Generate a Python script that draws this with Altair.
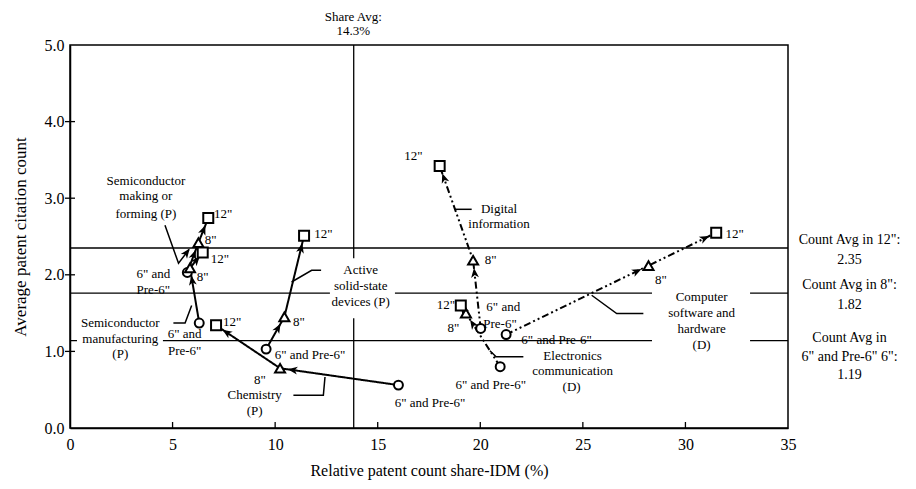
import math
import altair as alt
import pandas as pd

# ---------------- data ----------------
series_names = [
    "Semiconductor making or forming (P)",
    "Semiconductor manufacturing (P)",
    "Active solid-state devices (P)",
    "Chemistry (P)",
    "Digital information (D)",
    "Electronics communication (D)",
    "Computer software and hardware (D)",
]
series_kind = ["P", "P", "P", "P", "D", "D", "D"]
# 6" and Pre-6"  ->  8"  ->  12"
x_6 = [5.72, 6.30, 9.56, 16.01, 20.02, 20.97, 21.26]
y_6 = [2.03, 1.37, 1.03, 0.56, 1.30, 0.80, 1.22]
x_8 = [6.26, 5.85, 10.45, 10.24, 19.65, 19.30, 28.20]
y_8 = [2.42, 2.09, 1.45, 0.78, 2.19, 1.50, 2.12]
x_12 = [6.74, 6.47, 11.41, 7.12, 18.02, 19.05, 31.50]
y_12 = [2.74, 2.29, 2.51, 1.34, 3.42, 1.60, 2.55]

count_avg_lines = [2.35, 1.76, 1.14]
share_avg_line = 13.83

x_ticks = [0, 5, 10, 15, 20, 25, 30, 35]
y_ticks = [0, 1, 2, 3, 4, 5]
x_minor = [5, 10, 15, 20, 25, 30]
y_minor = [1, 2, 3, 4]

# annotation texts and their anchor positions (data units)
ann_text = [
    "Share Avg:", "14.3%",
    "Semiconductor", "making or", "forming (P)",
    '6" and', 'Pre-6"', '8"', '8"', '12"', '12"',
    "Semiconductor", "manufacturing", "(P)",
    '6" and', 'Pre-6"', '12"',
    "Active", "solid-state", "devices (P)",
    '6" and Pre-6"', '8"', '12"',
    '8"', "Chemistry", "(P)", '6" and Pre-6"',
    '12"', "Digital", "information", '8"', '6" and', 'Pre-6"',
    '12"', '8"', '6" and Pre-6"', "Electronics", "communication", "(D)",
    '6" and Pre-6"', '8"', '12"', "Computer", "software and", "hardware", "(D)",
]
ann_x = [
    13.81, 13.81,
    3.70, 3.70, 3.70,
    4.06, 4.06, 6.47, 6.86, 7.47, 7.31,
    2.45, 2.45, 2.45,
    5.59, 5.59, 7.91,
    14.17, 14.17, 14.17,
    11.70, 11.16, 12.35,
    9.26, 9.00, 9.00, 17.55,
    16.74, 20.91, 20.91, 20.51, 21.12, 20.96,
    18.33, 18.69, 20.51, 24.50, 24.50, 24.45,
    23.72, 28.81, 32.40, 30.79, 30.79, 30.79, 30.79,
]
ann_y = [
    5.366, 5.183,
    3.23, 3.025, 2.79,
    2.016, 1.798, 1.97, 2.45, 2.80, 2.20,
    1.371, 1.167, 0.962,
    1.223, 1.005, 1.384,
    2.059, 1.85, 1.645,
    0.949, 1.384, 2.538,
    0.632, 0.428, 0.222, 0.326,
    3.547, 2.864, 2.668, 2.189, 1.58, 1.363,
    1.602, 1.311, 0.557, 0.936, 0.744, 0.535,
    1.154, 1.928, 2.53, 1.71, 1.501, 1.289, 1.089,
]

# labels for the average lines, right of the plot
side_text = ['Count Avg in 12":', "2.35", 'Count Avg in 8":', "1.82",
             "Count Avg in", '6" and Pre-6" 6":', "1.19"]
side_x = [38.0, 38.0, 38.0, 38.0, 38.0, 38.0, 38.0]
side_y = [2.448, 2.187, 1.863, 1.602, 1.171, 0.927, 0.688]

# leader lines (polylines, data units)
leader_x = [
    [4.63, 5.29, 5.80],
    [5.04, 5.61, 5.93],
    [12.24, 11.78, 10.80],
    [10.89, 12.35, 12.43],
    [19.58, 18.77],
    [22.10, 20.77, 20.47],
    [27.95, 26.65, 25.43],
]
leader_y = [
    [2.646, 2.150, 2.33],
    [1.371, 1.371, 1.60],
    [2.059, 2.059, 1.906],
    [0.427, 0.427, 0.666],
    [2.855, 2.855],
    [0.929, 0.929, 1.008],
    [1.494, 1.494, 1.733],
]

# white label backgrounds that interrupt the reference lines
box_x = [12.67, 28.37, 0.34]
box_x2 = [15.84, 33.15, 4.53]
box_y = [2.215, 1.863, 1.483]
box_y2 = [1.432, 0.988, 0.86]

# ---------------- layout ----------------
W, H = 718, 383
XMAX, YMAX = 35, 5
kx, ky = W / XMAX, H / YMAX
FONT = "Liberation Serif"
ARROW = "M0,-1L0.75,0.85L0,0.35L-0.75,0.85Z"

rows = []
for i, s in enumerate(series_names):
    pts_i = [(x_6[i], y_6[i], "6"), (x_8[i], y_8[i], "8"), (x_12[i], y_12[i], "12")]
    for j, (xx, yy, sz) in enumerate(pts_i):
        rows.append(dict(series=s, kind=series_kind[i], order=j, x=xx, y=yy, size=sz))
pts = pd.DataFrame(rows)


def arrow_at(a, b, dist=13.0):
    dxp = (b[0] - a[0]) * kx
    dyp = (b[1] - a[1]) * ky
    L = math.hypot(dxp, dyp)
    t = min(dist / L, 0.5) if L > 0 else 0
    ang = math.degrees(math.atan2(dxp, dyp)) % 360
    return dict(x=b[0] - t * (b[0] - a[0]), y=b[1] - t * (b[1] - a[1]), angle=ang)


arrows = []
for i in range(len(series_names)):
    P = [(x_6[i], y_6[i]), (x_8[i], y_8[i]), (x_12[i], y_12[i])]
    for a, b in zip(P[:-1], P[1:]):
        arrows.append(arrow_at(a, b))
lx, ly = leader_x[0], leader_y[0]
arrows.append(arrow_at((lx[-2], ly[-2]), (lx[-1], ly[-1]), dist=4))
arrows_df = pd.DataFrame(arrows)

lead_rows = []
for k, (lxs, lys) in enumerate(zip(leader_x, leader_y)):
    for j, (xx, yy) in enumerate(zip(lxs, lys)):
        lead_rows.append(dict(id=k, order=j, x=xx, y=yy))
leaders_df = pd.DataFrame(lead_rows)

boxes_df = pd.DataFrame(dict(x=box_x, x2=box_x2, y=box_y, y2=box_y2))
ann_df = pd.DataFrame(dict(text=ann_text, x=ann_x, y=ann_y))
side_df = pd.DataFrame(dict(text=side_text, x=side_x, y=side_y))

xs = alt.Scale(domain=[0, XMAX], nice=False, zero=False)
ys = alt.Scale(domain=[0, YMAX], nice=False, zero=False)
xaxis = alt.Axis(values=x_ticks, format="d", ticks=False, grid=False,
                 domainColor="black", domainWidth=1.5, labelPadding=8,
                 labelFontSize=16, labelColor="black", labelFlush=False,
                 labelOverlap=False, labelFont=FONT,
                 title="Relative patent count share-IDM (%)", titleFont=FONT,
                 titleFontSize=16, titleFontWeight="normal", titleColor="black",
                 titlePadding=10)
yaxis = alt.Axis(values=y_ticks, format=".1f", ticks=False, grid=False,
                 domainColor="black", domainWidth=1.5, labelPadding=6,
                 labelFontSize=16, labelColor="black", labelFlush=False,
                 labelOverlap=False, labelFont=FONT,
                 title="Average patent citation count", titleFont=FONT,
                 titleFontSize=17, titleFontWeight="normal", titleColor="black",
                 titlePadding=15)


def X(f="x"):
    return alt.X(f"{f}:Q", scale=xs, axis=xaxis)


def Y(f="y"):
    return alt.Y(f"{f}:Q", scale=ys, axis=yaxis)


hrules = alt.Chart(pd.DataFrame(dict(y=count_avg_lines))).mark_rule(
    color="black", strokeWidth=1.3).encode(y=Y())
vrule = alt.Chart(pd.DataFrame(dict(x=[share_avg_line]))).mark_rule(
    color="black", strokeWidth=1.3).encode(x=X())
boxes = alt.Chart(boxes_df).mark_rect(fill="white", stroke=None).encode(
    x=X(), x2=alt.X2("x2"), y=Y(), y2=alt.Y2("y2"))
xt = alt.Chart(pd.DataFrame(dict(x=x_minor))).mark_rule(
    color="black", strokeWidth=1.3).encode(x=X(), y=alt.value(H), y2=alt.value(H - 6))
yt = alt.Chart(pd.DataFrame(dict(y=y_minor))).mark_rule(
    color="black", strokeWidth=1.3).encode(y=Y(), x=alt.value(-5), x2=alt.value(5))
leaders = alt.Chart(leaders_df).mark_line(color="black", strokeWidth=1.5).encode(
    x=X(), y=Y(), detail="id:N", order="order:Q")
lines = alt.Chart(pts).mark_line(color="black", strokeWidth=2).encode(
    x=X(), y=Y(), detail="series:N", order="order:Q",
    strokeDash=alt.StrokeDash("kind:N", scale=alt.Scale(
        domain=["P", "D"], range=[[1, 0], [7, 3, 2, 3, 2, 3]]), legend=None))
arrow_marks = alt.Chart(arrows_df).mark_point(
    shape=ARROW, size=110, filled=True, color="black", opacity=1).encode(
    x=X(), y=Y(), angle=alt.Angle("angle:Q", scale=None))


def markers(sz, shape, size):
    return alt.Chart(pts[pts["size"] == sz]).mark_point(
        shape=shape, size=size, filled=True, fill="white", stroke="black",
        strokeWidth=2, opacity=1).encode(x=X(), y=Y())


m6 = markers("6", "circle", 80)
m8 = markers("8", "triangle-up", 100)
m12 = markers("12", "square", 100)

texts = alt.Chart(ann_df).mark_text(
    font=FONT, fontSize=13, color="black", align="center", baseline="middle").encode(
    x=X(), y=Y(), text="text:N")
side = alt.Chart(side_df).mark_text(
    font=FONT, fontSize=14, color="black", align="center", baseline="middle").encode(
    x=X(), y=Y(), text="text:N")

chart = alt.layer(hrules, vrule, boxes, xt, yt, leaders, lines, arrow_marks,
                  m6, m8, m12, texts, side).properties(
    width=W, height=H,
    padding={"left": 70, "top": 45, "right": 128, "bottom": 61},
    autosize=alt.AutoSizeParams(type="none"),
    background="white",
).configure_view(stroke="black", strokeWidth=1.5)

chart.save("out.html", embed_options={"renderer": "svg", "actions": False})
